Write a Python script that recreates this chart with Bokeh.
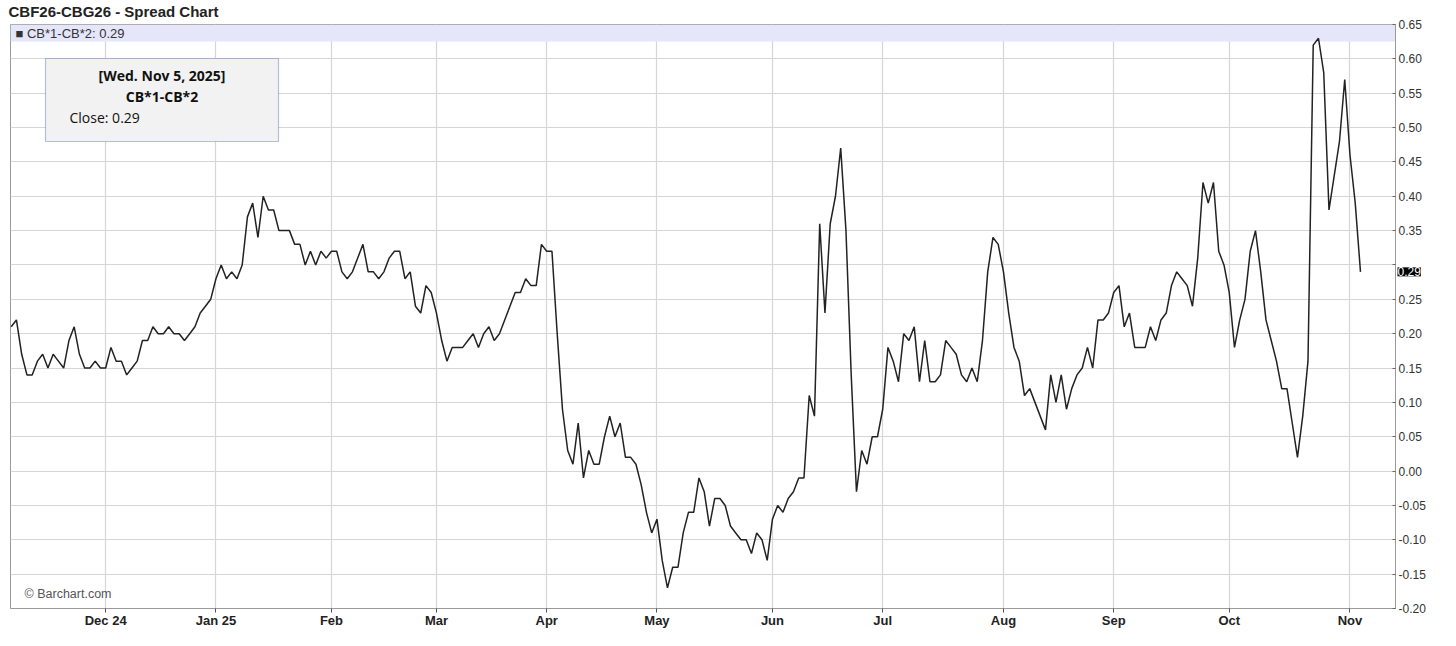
import numpy as np
from bokeh.plotting import figure
from bokeh.models import Range1d, FixedTicker, NumeralTickFormatter, Label, BoxAnnotation
from bokeh.embed import file_html
from bokeh.resources import INLINE

# ---------------- data ----------------
title_text = "CBF26-CBG26 - Spread Chart"
series_name = "CB*1-CB*2"
last_date_label = "[Wed. Nov 5, 2025]"
credit_text = "\u00a9 Barchart.com"

# daily close of the spread, one value per trading session (Nov 5, 2024 .. Nov 5, 2025)
spread_close = [
    0.21, 0.22, 0.17, 0.14, 0.14, 0.16, 0.17, 0.15, 0.17, 0.16,
    0.15, 0.19, 0.21, 0.17, 0.15, 0.15, 0.16, 0.15, 0.15, 0.18,
    0.16, 0.16, 0.14, 0.15, 0.16, 0.19, 0.19, 0.21, 0.20, 0.20,
    0.21, 0.20, 0.20, 0.19, 0.20, 0.21, 0.23, 0.24, 0.25, 0.28,
    0.30, 0.28, 0.29, 0.28, 0.30, 0.37, 0.39, 0.34, 0.40, 0.38,
    0.38, 0.35, 0.35, 0.35, 0.33, 0.33, 0.30, 0.32, 0.30, 0.32,
    0.31, 0.32, 0.32, 0.29, 0.28, 0.29, 0.31, 0.33, 0.29, 0.29,
    0.28, 0.29, 0.31, 0.32, 0.32, 0.28, 0.29, 0.24, 0.23, 0.27,
    0.26, 0.23, 0.19, 0.16, 0.18, 0.18, 0.18, 0.19, 0.20, 0.18,
    0.20, 0.21, 0.19, 0.20, 0.22, 0.24, 0.26, 0.26, 0.28, 0.27,
    0.27, 0.33, 0.32, 0.32, 0.20, 0.09, 0.03, 0.01, 0.07, -0.01,
    0.03, 0.01, 0.01, 0.05, 0.08, 0.05, 0.07, 0.02, 0.02, 0.01,
    -0.02, -0.06, -0.09, -0.07, -0.13, -0.17, -0.14, -0.14, -0.09, -0.06,
    -0.06, -0.01, -0.03, -0.08, -0.04, -0.04, -0.05, -0.08, -0.09, -0.10,
    -0.10, -0.12, -0.09, -0.10, -0.13, -0.07, -0.05, -0.06, -0.04, -0.03,
    -0.01, -0.01, 0.11, 0.08, 0.36, 0.23, 0.36, 0.40, 0.47, 0.35,
    0.14, -0.03, 0.03, 0.01, 0.05, 0.05, 0.09, 0.18, 0.16, 0.13,
    0.20, 0.19, 0.21, 0.13, 0.19, 0.13, 0.13, 0.14, 0.19, 0.18,
    0.17, 0.14, 0.13, 0.15, 0.13, 0.19, 0.29, 0.34, 0.33, 0.29,
    0.23, 0.18, 0.16, 0.11, 0.12, 0.10, 0.08, 0.06, 0.14, 0.10,
    0.14, 0.09, 0.12, 0.14, 0.15, 0.18, 0.15, 0.22, 0.22, 0.23,
    0.26, 0.27, 0.21, 0.23, 0.18, 0.18, 0.18, 0.21, 0.19, 0.22,
    0.23, 0.27, 0.29, 0.28, 0.27, 0.24, 0.31, 0.42, 0.39, 0.42,
    0.32, 0.30, 0.26, 0.18, 0.22, 0.25, 0.32, 0.35, 0.29, 0.22,
    0.19, 0.16, 0.12, 0.12, 0.07, 0.02, 0.08, 0.16, 0.62, 0.63,
    0.58, 0.38, 0.43, 0.48, 0.57, 0.46, 0.39, 0.29,
]

# first trading session of each month (index into spread_close) and its label
month_labels = ["Dec 24", "Jan 25", "Feb", "Mar", "Apr", "May",
                "Jun", "Jul", "Aug", "Sep", "Oct", "Nov"]
month_start_index = [18, 39, 61, 81, 102, 123, 145, 166, 189, 210, 232, 255]

y_ticks = [-0.20, -0.15, -0.10, -0.05, 0.00, 0.05, 0.10, 0.15, 0.20,
           0.25, 0.30, 0.35, 0.40, 0.45, 0.50, 0.55, 0.60, 0.65]

# ---------------- layout ----------------
B_LEFT, B_TOP, B_BOTTOM = 10, 23, 33
FRAME_W, FRAME_H = 1385, 584
X0, X1 = -0.13, 263.67
Y0, Y1 = -0.20, 0.65

# canvas pixel -> data helpers
def dx(px):
    return X0 + (px - B_LEFT) / FRAME_W * (X1 - X0)
def dy(py):
    return Y1 - (py - B_TOP) / FRAME_H * (Y1 - Y0)

p = figure(frame_width=FRAME_W, frame_height=FRAME_H,
           x_range=Range1d(X0, X1), y_range=Range1d(Y0, Y1),
           y_axis_location="right", output_backend="svg", toolbar_location=None,
           min_border_left=B_LEFT, min_border_top=B_TOP,
           min_border_right=10, min_border_bottom=B_BOTTOM)

p.title.text = title_text
p.title.align = "left"
p.title.offset = -2
p.title.standoff = 5
p.title.text_font = "Liberation Sans"
p.title.text_font_style = "bold"
p.title.text_font_size = "15px"
p.title.text_color = "#222222"
p.title.vertical_align = "top"

p.background_fill_color = "white"
p.border_fill_color = "white"
p.outline_line_color = "#9a9a9a"
p.outline_line_width = 1

# grid
p.xgrid.grid_line_color = "#d6d6d6"
p.ygrid.grid_line_color = "#d6d6d6"
p.xgrid.grid_line_width = 1.2
p.ygrid.grid_line_width = 1.2

# x axis
p.xaxis.ticker = FixedTicker(ticks=month_start_index)
p.xaxis.major_label_overrides = {i: lab for i, lab in zip(month_start_index, month_labels)}
p.xaxis.minor_tick_line_color = None
p.xaxis.axis_line_color = "#9a9a9a"
p.xaxis.major_tick_line_color = "#555555"
p.xaxis.major_tick_out = 4
p.xaxis.major_tick_in = 0
p.xaxis.major_label_standoff = 0
p.xaxis.major_label_text_font = "Liberation Sans"
p.xaxis.major_label_text_font_style = "bold"
p.xaxis.major_label_text_font_size = "13px"
p.xaxis.major_label_text_color = "#222222"

last = spread_close[-1]

# y axis (right); the tick hidden behind the last-value marker is left blank
p.yaxis.ticker = FixedTicker(ticks=y_ticks)
p.yaxis.formatter = NumeralTickFormatter(format="0.00")
p.yaxis.major_label_overrides = {t: "" for t in y_ticks if abs(t - last) < 0.012}
p.yaxis.minor_tick_line_color = None
p.yaxis.axis_line_color = "#9a9a9a"
p.yaxis.major_tick_line_color = "#666666"
p.yaxis.major_tick_in = 3
p.yaxis.major_tick_out = 0
p.yaxis.major_label_standoff = 3
p.yaxis.major_label_text_font = "Liberation Sans"
p.yaxis.major_label_text_font_size = "12px"
p.yaxis.major_label_text_color = "#333333"

# legend band at the top of the frame
band = BoxAnnotation(top=Y1, bottom=dy(40), fill_color="#e6e6fa", fill_alpha=1.0,
                     line_alpha=0, level="underlay")
p.add_layout(band)

# the spread line
idx = np.arange(len(spread_close))
p.line(idx, spread_close, line_color="#222222", line_width=1.5)

# legend text
p.add_layout(Label(x=dx(15), y=dy(31.5), text=f"\u25a0 {series_name}: {last:.2f}",
                   text_baseline="middle", text_align="left",
                   text_font="Liberation Sans", text_font_size="13px",
                   text_color="#333333"))

# info box
p.add_layout(BoxAnnotation(left=dx(45), right=dx(278), top=dy(57), bottom=dy(140),
                           fill_color="#f2f2f2", fill_alpha=1.0,
                           line_color="#143a8c", line_width=1.2))
cx = dx(161.5)
p.add_layout(Label(x=cx, y=dy(74), text=last_date_label, text_align="center",
                   text_baseline="middle", text_font="Open Sans", text_font_style="bold",
                   text_font_size="14px", text_color="#111111"))
p.add_layout(Label(x=cx, y=dy(95), text=series_name, text_align="center",
                   text_baseline="middle", text_font="Open Sans", text_font_style="bold",
                   text_font_size="14px", text_color="#111111"))
p.add_layout(Label(x=dx(69), y=dy(116), text=f"Close: {last:.2f}", text_align="left",
                   text_baseline="middle", text_font="Open Sans",
                   text_font_size="14px", text_color="#111111"))

# credit
p.add_layout(Label(x=dx(24), y=dy(592), text=credit_text, text_align="left",
                   text_baseline="middle", text_font="Liberation Sans",
                   text_font_size="12.5px", text_color="#555555"))

# last value marker on the price axis (in the side panel, so it is not clipped)
p.add_layout(Label(x=X1, y=last, x_offset=2, text=f"{last:.2f}", text_align="left",
                   text_baseline="middle", text_font="Liberation Sans",
                   text_font_size="12px", text_color="white",
                   background_fill_color="black", background_fill_alpha=1.0), "right")

open("out.html", "w").write(file_html(p, INLINE))
